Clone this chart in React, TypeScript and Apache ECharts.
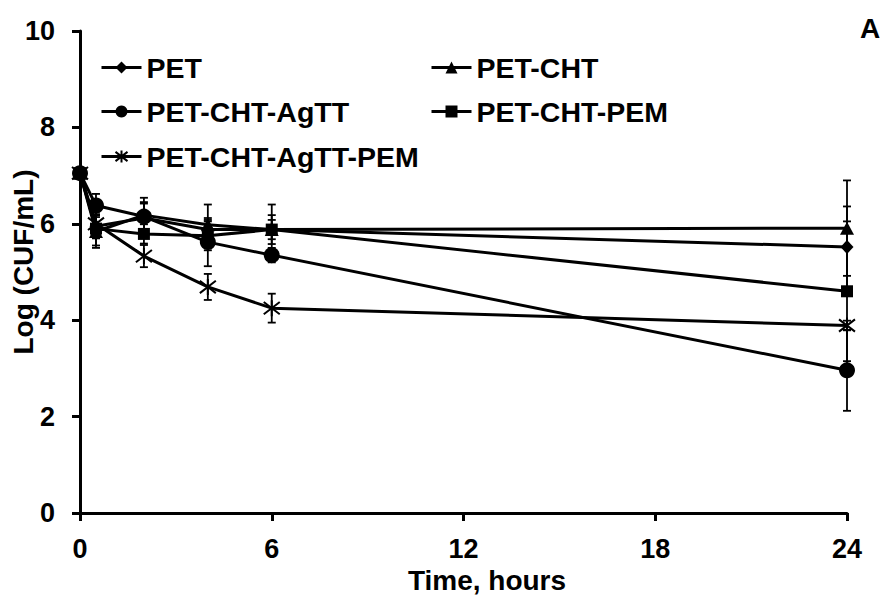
import React, { useEffect, useRef } from "react";
import * as echarts from "echarts";

const times = [0, 0.5, 2, 4, 6, 24];
const seriesNames = ["PET", "PET-CHT", "PET-CHT-AgTT", "PET-CHT-PEM", "PET-CHT-AgTT-PEM"];
const petValues = [7.05, 5.95, 6.12, 5.88, 5.88, 5.52];
const petErr = [0.05, 0.25, 0.3, 0.2, 0.3, 0.84];
const chtValues = [7.05, 5.84, 6.18, 5.98, 5.88, 5.91];
const chtErr = [0.08, 0.34, 0.36, 0.42, 0.52, 0.99];
const agttValues = [7.05, 6.38, 6.15, 5.62, 5.35, 2.96];
const agttErr = [0.05, 0.24, 0.3, 0.5, 0.15, 0.84];
const pemValues = [7.05, 5.9, 5.79, 5.75, 5.88, 4.6];
const pemErr = [0.05, 0.35, 0.2, 0.3, 0.2, 1.45];
const agttPemValues = [7.05, 6.0, 5.33, 4.69, 4.25, 3.89];
const agttPemErr = [0.05, 0.3, 0.23, 0.27, 0.3, 0.1];
const xTicks = { min: 0, max: 24, interval: 6 };
const yTicks = { min: 0, max: 10, interval: 2 };

const FONT = "'Liberation Sans', Arial, sans-serif";
const ASTERISK = "path://M0,0L10,10M10,0L0,10M5,-1.5L5,11.5";

export default function App() {
  const ref = useRef<HTMLDivElement>(null);
  useEffect(() => {
    if (!ref.current) return;
    const chart = echarts.init(ref.current, undefined, { renderer: "svg" });

    const values = [petValues, chtValues, agttValues, pemValues, agttPemValues];
    const errs = [petErr, chtErr, agttErr, pemErr, agttPemErr];
    const symbols: any[] = ["diamond", "triangle", "circle", "rect", ASTERISK];
    const sizes: any[] = [[13, 14], [14, 13], 16, 12, 16];

    const lineSeries = seriesNames.map((name, i) => ({
      name,
      type: "line",
      data: times.map((t, j) => [t, values[i][j]]),
      symbol: symbols[i],
      symbolSize: sizes[i],
      showSymbol: true,
      lineStyle: { color: "#000", width: 3 },
      itemStyle:
        i === 4
          ? { color: "#000", borderColor: "#000", borderWidth: 2 }
          : { color: "#000", borderWidth: 0 },
      z: 3,
    }));

    const errSeries = seriesNames.map((name, i) => ({
      name: name + " err",
      type: "custom",
      data: times.map((t, j) => [t, values[i][j] - errs[i][j], values[i][j] + errs[i][j]]),
      encode: { x: 0, y: [1, 2] },
      z: 2,
      renderItem: (params: any, api: any) => {
        const x = api.value(0);
        const pLo = api.coord([x, api.value(1)]);
        const pHi = api.coord([x, api.value(2)]);
        const w = 4;
        const st = { stroke: "#000", lineWidth: 1.8 };
        return {
          type: "group",
          children: [
            { type: "line", shape: { x1: pHi[0], y1: pHi[1], x2: pLo[0], y2: pLo[1] }, style: st },
            { type: "line", shape: { x1: pHi[0] - w, y1: pHi[1], x2: pHi[0] + w, y2: pHi[1] }, style: st },
            { type: "line", shape: { x1: pLo[0] - w, y1: pLo[1], x2: pLo[0] + w, y2: pLo[1] }, style: st },
          ],
        };
      },
    }));

    const legendPos = [
      [100, 68],
      [430, 68],
      [100, 112],
      [430, 112],
      [100, 157],
    ];
    const legends = seriesNames.map((name, i) => ({
      data: [name],
      left: legendPos[i][0],
      top: legendPos[i][1] - 15,
      itemWidth: 40,
      itemHeight: 15,
      selectedMode: false,
      padding: 0,
      lineStyle: { width: 3, color: "#000" },
      textStyle: { fontSize: 28.5, fontWeight: "bold", fontFamily: FONT, color: "#000", padding: [0, 0, 0, 0] },
    }));

    const axisCommon = {
      axisLine: { show: true, lineStyle: { color: "#000", width: 3 } },
      axisTick: { show: true, length: 8, lineStyle: { color: "#000", width: 3 } },
      splitLine: { show: false },
      axisLabel: { fontSize: 27, fontWeight: "bold", fontFamily: FONT, color: "#000" },
    };

    chart.setOption({
      animation: false,
      backgroundColor: "#fff",
      grid: { left: 80, right: 36, top: 31, bottom: 89, containLabel: false },
      xAxis: {
        type: "value",
        ...xTicks,
        ...axisCommon,
        axisLabel: { ...axisCommon.axisLabel, margin: 22 },
      },
      yAxis: {
        type: "value",
        ...yTicks,
        ...axisCommon,
        axisLabel: { ...axisCommon.axisLabel, margin: 25 },
      },
      legend: legends,
      series: [...errSeries, ...lineSeries],
      graphic: [
        {
          type: "text",
          x: 487,
          y: 580,
          style: {
            text: "Time, hours",
            fontSize: 28,
            fontWeight: "bold",
            fontFamily: FONT,
            fill: "#000",
            textAlign: "center",
            textVerticalAlign: "middle",
          },
        },
        {
          type: "text",
          x: 23,
          y: 262,
          rotation: Math.PI / 2,
          style: {
            text: "Log (CUF/mL)",
            fontSize: 28,
            fontWeight: "bold",
            fontFamily: FONT,
            fill: "#000",
            textAlign: "center",
            textVerticalAlign: "middle",
          },
        },
        {
          type: "text",
          x: 870,
          y: 28,
          style: {
            text: "A",
            fontSize: 28,
            fontWeight: "bold",
            fontFamily: FONT,
            fill: "#000",
            textAlign: "center",
            textVerticalAlign: "middle",
          },
        },
      ],
    });
    return () => chart.dispose();
  }, []);
  return (
    <div
      ref={ref}
      style={{ position: "fixed", left: 0, top: 0, width: 883, height: 602, background: "#fff" }}
    />
  );
}
